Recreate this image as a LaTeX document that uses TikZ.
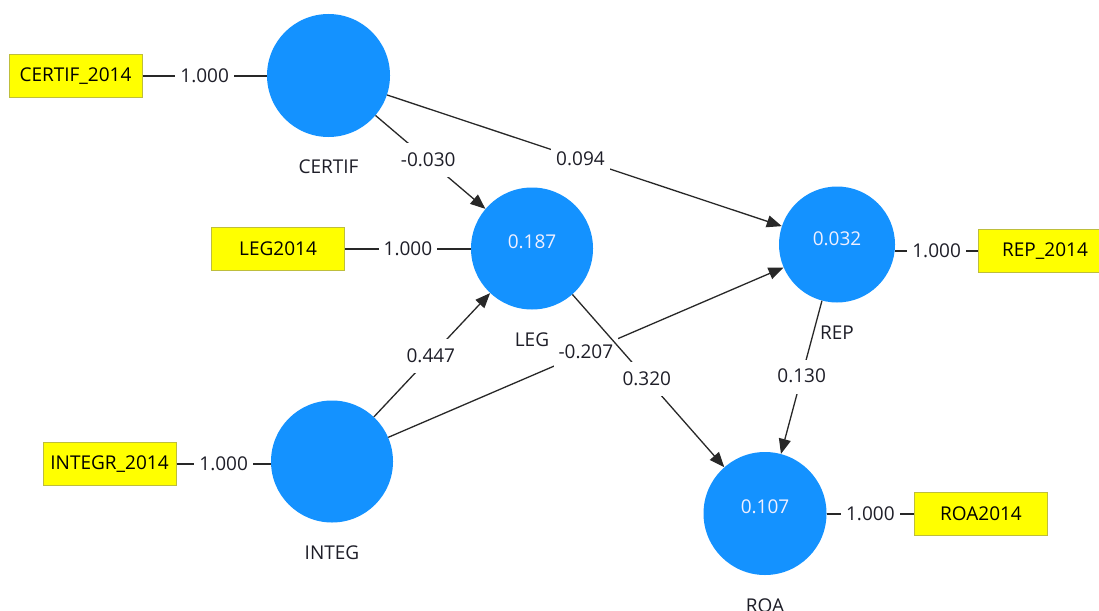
\documentclass[tikz,border=0pt]{standalone}
\usepackage{fontspec}
\setmainfont{Open Sans}
\usetikzlibrary{arrows.meta}
\definecolor{latentblue}{RGB}{20,146,255}
\definecolor{indyellow}{RGB}{255,255,0}
\definecolor{indborder}{RGB}{190,190,60}
\definecolor{linkgray}{RGB}{40,40,40}
\definecolor{labelink}{RGB}{30,30,40}
\begin{document}
\begin{tikzpicture}[x=1pt,y=-1pt,
  every node/.style={font=\fontsize{19}{23}\selectfont},
  latent/.style={circle, fill=latentblue, draw=none, inner sep=0pt, minimum size=#1},
  latent/.default=122pt,
  indicator/.style={rectangle, fill=indyellow, draw=indborder, line width=1pt,
    minimum width=133pt, minimum height=43pt, inner sep=0pt, text=black},
  rsq/.style={text=white!94!blue},
  lvname/.style={text=labelink, inner sep=0pt},
  coef/.style={fill=white, text=labelink, inner xsep=5pt, inner ysep=5pt,
    text height=18pt, text depth=6pt},
  loadlink/.style={draw=linkgray, line width=1.3pt},
  structlink/.style={draw=linkgray, line width=1.3pt,
    -{Triangle[length=15pt,width=12pt]}}]

% canvas
\useasboundingbox (0,0) rectangle (1099,610);
\clip (0,0) rectangle (1099,610);
\fill[white] (0,0) rectangle (1099,610);

% latent variables
\node[latent=123pt] (certif) at (328.5,75.5) {};
\node[latent=122pt] (leg)    at (532,248.5) {};
\node[latent=116pt] (rep)    at (837,244.5) {};
\node[latent=122pt] (integ)  at (332,461.5) {};
\node[latent=123pt] (roa)    at (765,513.5) {};

% R-squared values inside the circles
\node[rsq] (leg-r2) at ([yshift=7pt]leg.center) {0.187};
\node[rsq] (rep-r2) at ([yshift=6pt]rep.center) {0.032};
\node[rsq] (roa-r2) at ([yshift=7pt]roa.center) {0.107};

% construct names below the circles
\node[lvname] (certif-name) at ([yshift=-30pt]certif.south) {CERTIF};
\node[lvname] (leg-name)    at ([yshift=-30pt]leg.south)    {LEG};
\node[lvname] (rep-name)    at ([yshift=-30pt]rep.south)    {REP};
\node[lvname] (integ-name)  at ([yshift=-30pt]integ.south)  {INTEG};
\node[lvname] (roa-name)    at ([yshift=-30pt]roa.south)    {ROA};

% indicators
\node[indicator] (certif2014) at (75.5,76)  {CERTIF\_2014};
\node[indicator] (leg2014)    at (278,249)  {LEG2014};
\node[indicator] (integr2014) at (109.5,464) {INTEGR\_2014};
\node[indicator] (rep2014)    at (1045,251) {REP\_2014};
\node[indicator] (roa2014)    at (981,514)  {ROA2014};

% outer loadings
\draw[loadlink] (certif2014.east) -- node[coef] {1.000} (certif2014.east -| certif.west);
\draw[loadlink] (leg2014.east)    -- node[coef] {1.000} (leg2014.east -| leg.west);
\draw[loadlink] (integr2014.east) -- node[coef] {1.000} (integr2014.east -| integ.west);
\draw[loadlink] (rep2014.west -| rep.east) -- node[coef] {1.000} (rep2014.west);
\draw[loadlink] (roa2014.west -| roa.east) -- node[coef] {1.000} (roa2014.west);

% path coefficients
\draw[structlink] (certif) -- node[coef, pos=0.48] {-0.030} (leg);
\draw[structlink] (certif) -- node[coef, pos=0.49] {0.094} (rep);
\draw[structlink] (integ)  -- node[coef, pos=0.49] {0.447} (leg);
\draw[structlink] (integ)  -- node[coef, pos=0.50] {-0.207} (rep);
\draw[structlink] (leg)    -- node[coef, pos=0.49] {0.320} (roa);
\draw[structlink] (rep)    -- node[coef, pos=0.495] {0.130} (roa);
\end{tikzpicture}
\end{document}
